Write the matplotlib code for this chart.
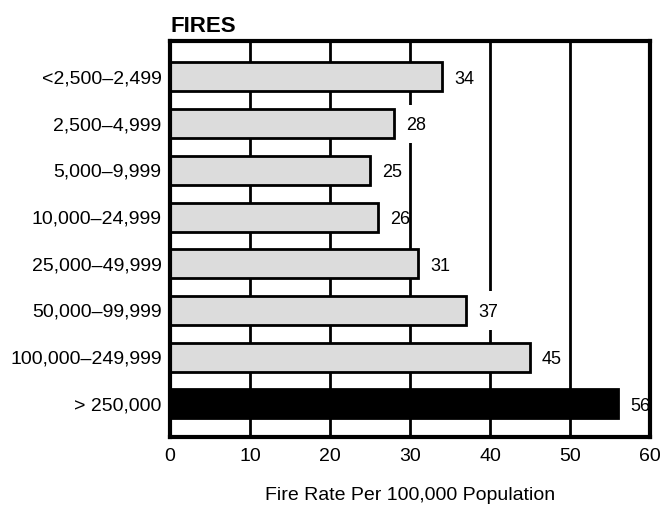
import matplotlib
matplotlib.use("Agg")
import matplotlib.pyplot as plt
from matplotlib import font_manager
from matplotlib.patches import Rectangle

categories = ["<2,500–2,499", "2,500–4,999", "5,000–9,999", "10,000–24,999",
              "25,000–49,999", "50,000–99,999", "100,000–249,999", "> 250,000"]
values = [34, 28, 25, 26, 31, 37, 45, 56]
colors = ["#dcdcdc"] * 7 + ["#000000"]
xticks = [0, 10, 20, 30, 40, 50, 60]

names = {f.name for f in font_manager.fontManager.ttflist}
fam = "Liberation Sans Narrow" if "Liberation Sans Narrow" in names else "Liberation Sans"
plt.rcParams["font.family"] = [fam, "DejaVu Sans"]

fig = plt.figure(figsize=(6.61, 5.08), dpi=100)
ax = fig.add_axes([170/661, 1-437/508, 480/661, 396/508])

ypos = list(range(len(categories)))
ax.barh(ypos, values, height=0.62, color=colors, edgecolor="black", linewidth=2, zorder=3)
for y, v in zip(ypos, values):
    ax.add_patch(Rectangle((v + 1.3, y - 0.41), 2.5, 0.82, facecolor="white",
                           edgecolor="none", zorder=3.5))
    ax.text(v + 1.5, y + 0.05, str(v), va="center", ha="left", fontsize=13, zorder=4)

ax.set_xlim(0, 60)
ax.set_ylim(7.71, -0.77)
ax.set_xticks(xticks)
ax.set_xticklabels([str(t) for t in xticks], fontsize=14)
ax.set_yticks(ypos)
ax.set_yticklabels(categories, fontsize=14)
ax.tick_params(length=0, pad=6)
ax.tick_params(axis="x", pad=8)
for x in xticks[1:-1]:
    ax.axvline(x, color="black", linewidth=2, zorder=1)
for s in ax.spines.values():
    s.set_linewidth(3)
    s.set_zorder(5)
ax.set_xlabel("Fire Rate Per 100,000 Population", fontsize=14, labelpad=16)
ax.text(0, 1.01, "FIRES", transform=ax.transAxes, fontsize=16, fontweight="bold",
        ha="left", va="bottom")

fig.savefig("out.png", dpi=100)
